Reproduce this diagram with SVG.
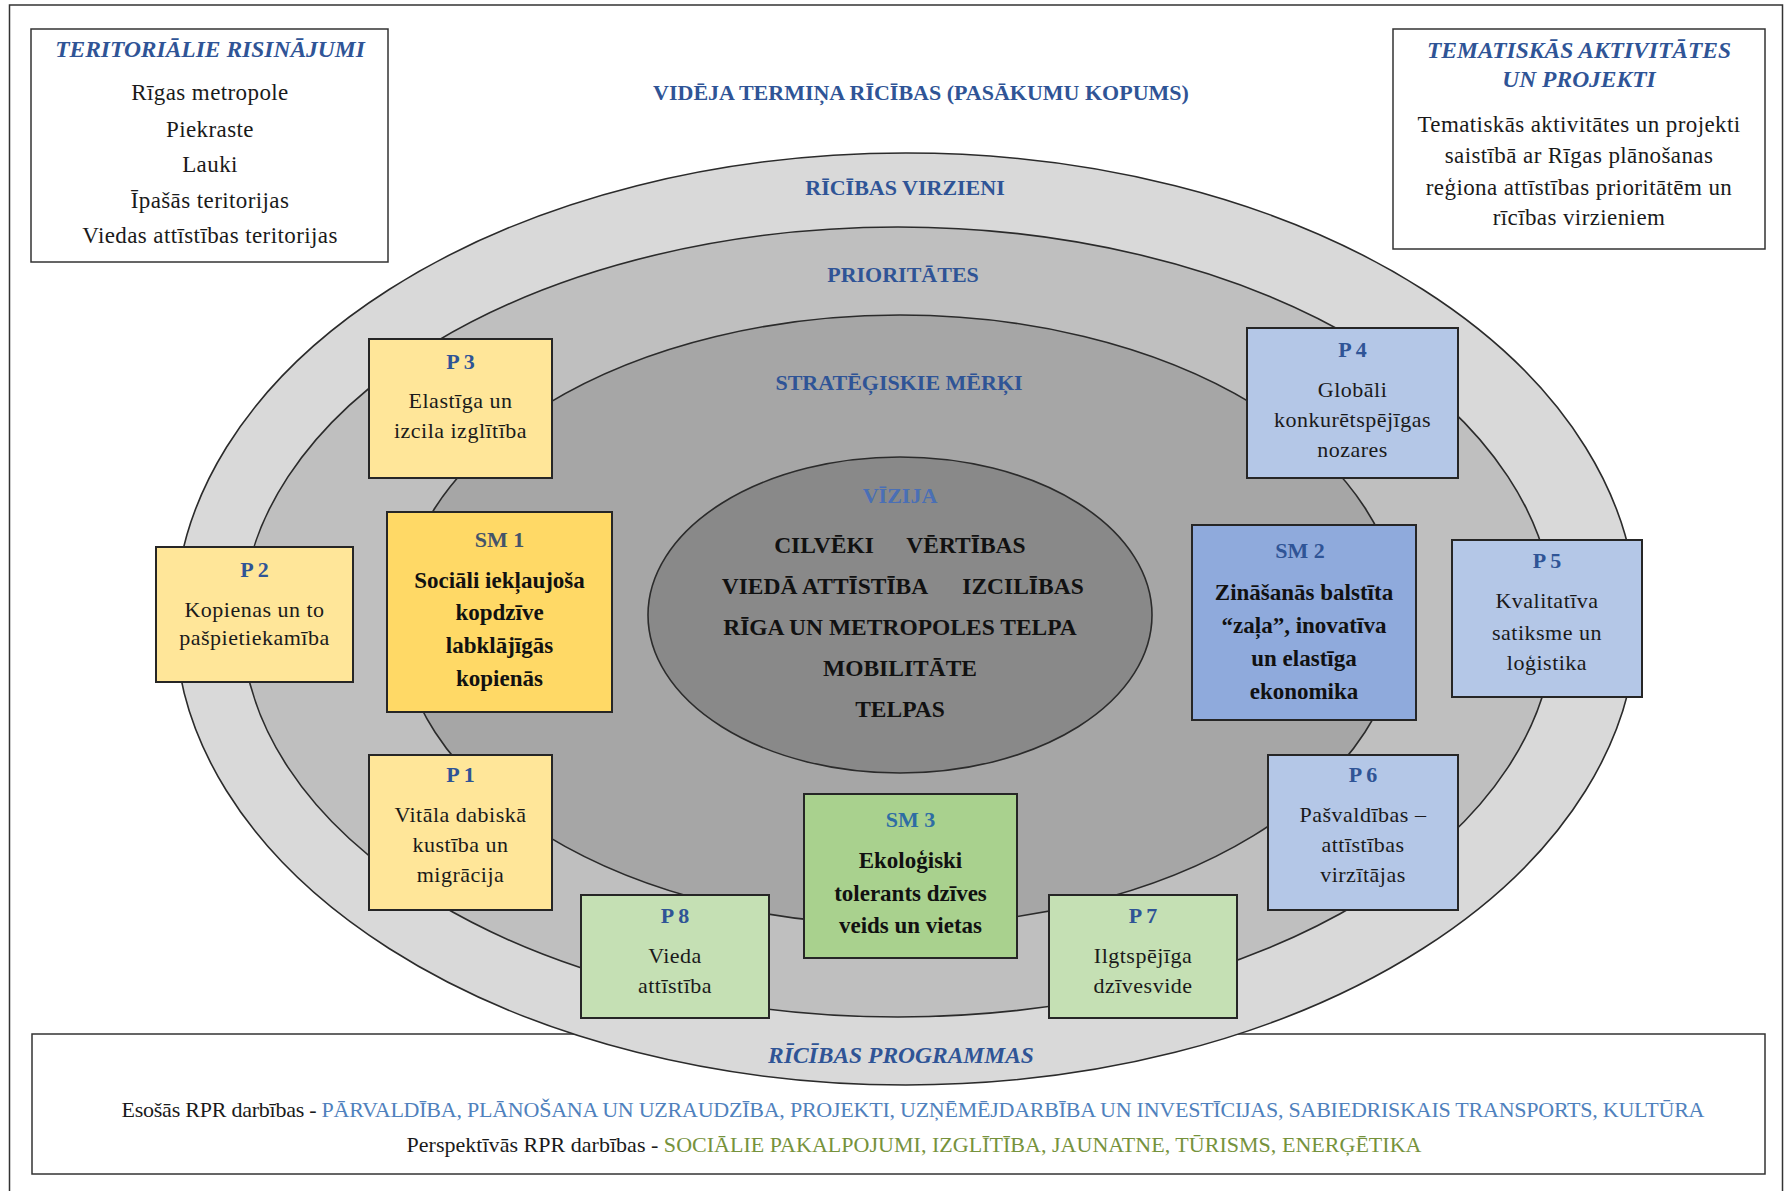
<svg xmlns="http://www.w3.org/2000/svg" width="1788" height="1191" viewBox="0 0 1788 1191">
<style>
text{font-family:"Liberation Serif","DejaVu Serif",serif;text-anchor:middle}
.hd{font-weight:bold;font-size:22px;fill:#2F5496}
.hi{font-weight:bold;font-style:italic;font-size:23.5px;fill:#2F5496}
.bd{font-size:23px;fill:#1a1a1a;letter-spacing:0.4px}
.pt{font-weight:bold;font-size:22px;fill:#2F5496}
.pb{font-size:22px;fill:#1a1a1a;letter-spacing:0.5px}
.sb{font-weight:bold;font-size:23px;fill:#111}
.vz{font-weight:bold;font-size:23.5px;fill:#111}
.frame{fill:#fff;stroke:#333;stroke-width:1.5}
.ring{stroke:#2b2b2b;stroke-width:1.6}
.by{fill:#FFE699;stroke:#262626;stroke-width:2}
.bys{fill:#FFD966;stroke:#262626;stroke-width:2}
.bb{fill:#B4C7E7;stroke:#262626;stroke-width:2}
.bbs{fill:#8FAADC;stroke:#262626;stroke-width:2}
.bg{fill:#C5E0B4;stroke:#262626;stroke-width:2}
.bgs{fill:#A9D18E;stroke:#262626;stroke-width:2}
.blue{fill:#4F81BD}
.green{fill:#76923C}
</style>
<rect x="0" y="0" width="1788" height="1191" fill="#fff"/>
<rect class="frame" x="9.5" y="5" width="1773" height="1200"/>

<g id="territorial">
<rect class="frame" x="31" y="29" width="357" height="233"/>
<text class="hi" x="210" y="57">TERITORIĀLIE RISINĀJUMI</text>
<text class="bd" x="210" y="100">Rīgas metropole</text>
<text class="bd" x="210" y="137">Piekraste</text>
<text class="bd" x="210" y="172">Lauki</text>
<text class="bd" x="210" y="208">Īpašās teritorijas</text>
<text class="bd" x="210" y="243">Viedas attīstības teritorijas</text>
</g>

<g id="thematic">
<rect class="frame" x="1393" y="29" width="372" height="220"/>
<text class="hi" x="1579" y="58">TEMATISKĀS AKTIVITĀTES</text>
<text class="hi" x="1579" y="87">UN PROJEKTI</text>
<text class="bd" x="1579" y="132">Tematiskās aktivitātes un projekti</text>
<text class="bd" x="1579" y="163">saistībā ar Rīgas plānošanas</text>
<text class="bd" x="1579" y="195">reģiona attīstības prioritātēm un</text>
<text class="bd" x="1579" y="225">rīcības virzieniem</text>
</g>

<g id="medium-term">
<text class="hd" x="921" y="100">VIDĒJA TERMIŅA RĪCĪBAS (PASĀKUMU KOPUMS)</text>
</g>

<g id="programmes">
<rect class="frame" x="32" y="1034" width="1733" height="140"/>
</g>

<g id="ring-directions">
<ellipse class="ring" cx="906" cy="619" rx="731" ry="466" fill="#D9D9D9"/>
<text class="hd" x="905" y="195">RĪCĪBAS VIRZIENI</text>
</g>
<g id="ring-priorities">
<ellipse class="ring" cx="898" cy="622" rx="656" ry="395" fill="#BFBFBF"/>
<text class="hd" x="903" y="282">PRIORITĀTES</text>
</g>
<g id="ring-goals">
<ellipse class="ring" cx="900" cy="620" rx="500" ry="305" fill="#A6A6A6"/>
<text class="hd" x="899" y="390">STRATĒĢISKIE MĒRĶI</text>
</g>
<g id="vision">
<ellipse class="ring" cx="900" cy="615" rx="252" ry="158" fill="#898989"/>
<text class="hd" x="900" y="503" style="fill:#4A6FB5">VĪZIJA</text>
<text class="vz" x="824" y="553">CILVĒKI</text>
<text class="vz" x="966" y="553">VĒRTĪBAS</text>
<text class="vz" x="825" y="594">VIEDĀ ATTĪSTĪBA</text>
<text class="vz" x="1023" y="594">IZCILĪBAS</text>
<text class="vz" x="900" y="635">RĪGA UN METROPOLES TELPA</text>
<text class="vz" x="900" y="676">MOBILITĀTE</text>
<text class="vz" x="900" y="717">TELPAS</text>
</g>

<g id="programmes-text">
<text class="hi" x="901" y="1063">RĪCĪBAS PROGRAMMAS</text>
<text x="913" y="1117" font-size="22" fill="#1a1a1a" textLength="1583" lengthAdjust="spacing">Esošās RPR darbības - <tspan class="blue">PĀRVALDĪBA, PLĀNOŠANA UN UZRAUDZĪBA, PROJEKTI, UZŅĒMĒJDARBĪBA UN INVESTĪCIJAS, SABIEDRISKAIS TRANSPORTS, KULTŪRA</tspan></text>
<text x="914" y="1152" font-size="22" fill="#1a1a1a" textLength="1015" lengthAdjust="spacing">Perspektīvās RPR darbības - <tspan class="green">SOCIĀLIE PAKALPOJUMI, IZGLĪTĪBA, JAUNATNE, TŪRISMS, ENERĢĒTIKA</tspan></text>
</g>

<g id="connectors"></g>

<g id="P3">
<rect class="by" x="369" y="339" width="183" height="139"/>
<text class="pt" x="460.5" y="369">P 3</text>
<text class="pb" x="460.5" y="408">Elastīga un</text>
<text class="pb" x="460.5" y="438">izcila izglītība</text>
</g>
<g id="P2">
<rect class="by" x="156" y="547" width="197" height="135"/>
<text class="pt" x="254.5" y="577">P 2</text>
<text class="pb" x="254.5" y="617">Kopienas un to</text>
<text class="pb" x="254.5" y="645">pašpietiekamība</text>
</g>
<g id="SM1">
<rect class="bys" x="387" y="512" width="225" height="200"/>
<text class="pt" x="499.5" y="547" style="fill:#44546A">SM 1</text>
<text class="sb" x="499.5" y="588">Sociāli iekļaujoša</text>
<text class="sb" x="499.5" y="620">kopdzīve</text>
<text class="sb" x="499.5" y="653">labklājīgās</text>
<text class="sb" x="499.5" y="686">kopienās</text>
</g>
<g id="P1">
<rect class="by" x="369" y="755" width="183" height="155"/>
<text class="pt" x="460.5" y="782">P 1</text>
<text class="pb" x="460.5" y="822">Vitāla dabiskā</text>
<text class="pb" x="460.5" y="852">kustība un</text>
<text class="pb" x="460.5" y="882">migrācija</text>
</g>
<g id="P8">
<rect class="bg" x="581" y="895" width="188" height="123"/>
<text class="pt" x="675" y="923">P 8</text>
<text class="pb" x="675" y="963">Vieda</text>
<text class="pb" x="675" y="993">attīstība</text>
</g>
<g id="SM3">
<rect class="bgs" x="804" y="794" width="213" height="164"/>
<text class="pt" x="910.5" y="827" style="fill:#2E6DA4">SM 3</text>
<text class="sb" x="910.5" y="868">Ekoloģiski</text>
<text class="sb" x="910.5" y="901">tolerants dzīves</text>
<text class="sb" x="910.5" y="933">veids un vietas</text>
</g>
<g id="P7">
<rect class="bg" x="1049" y="895" width="188" height="123"/>
<text class="pt" x="1143" y="923">P 7</text>
<text class="pb" x="1143" y="963">Ilgtspējīga</text>
<text class="pb" x="1143" y="993">dzīvesvide</text>
</g>
<g id="P6">
<rect class="bb" x="1268" y="755" width="190" height="155"/>
<text class="pt" x="1363" y="782">P 6</text>
<text class="pb" x="1363" y="822">Pašvaldības –</text>
<text class="pb" x="1363" y="852">attīstības</text>
<text class="pb" x="1363" y="882">virzītājas</text>
</g>
<g id="P4">
<rect class="bb" x="1247" y="328" width="211" height="150"/>
<text class="pt" x="1352.5" y="357">P 4</text>
<text class="pb" x="1352.5" y="397">Globāli</text>
<text class="pb" x="1352.5" y="427">konkurētspējīgas</text>
<text class="pb" x="1352.5" y="457">nozares</text>
</g>
<g id="SM2">
<rect class="bbs" x="1192" y="525" width="224" height="195"/>
<text class="pt" x="1300" y="558">SM 2</text>
<text class="sb" x="1304" y="600">Zināšanās balstīta</text>
<text class="sb" x="1304" y="633">“zaļa”, inovatīva</text>
<text class="sb" x="1304" y="666">un elastīga</text>
<text class="sb" x="1304" y="699">ekonomika</text>
</g>
<g id="P5">
<rect class="bb" x="1452" y="540" width="190" height="157"/>
<text class="pt" x="1547" y="568">P 5</text>
<text class="pb" x="1547" y="608">Kvalitatīva</text>
<text class="pb" x="1547" y="640">satiksme un</text>
<text class="pb" x="1547" y="670">loģistika</text>
</g>
</svg>
